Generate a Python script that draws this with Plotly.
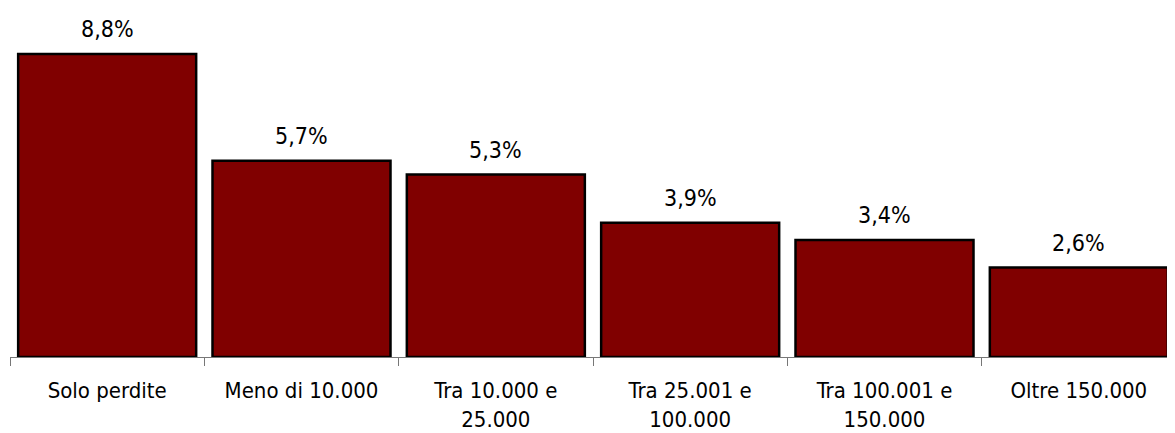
import plotly.graph_objects as go

# Categorie di reddito e quota percentuale
categories = ['Solo perdite', 'Meno di 10.000', 'Tra 10.000 e<br>25.000',
              'Tra 25.001 e<br>100.000', 'Tra 100.001 e<br>150.000', 'Oltre 150.000']
values = [8.8, 5.7, 5.3, 3.9, 3.4, 2.6]

labels = [f'{v:.1f}'.replace('.', ',') + '%' for v in values]

FONT = 'DejaVu Sans Condensed, DejaVu Sans'

fig = go.Figure()

fig.add_trace(go.Bar(x = categories,
                     y = values,
                     marker = dict(color = '#800000',
                                   line = dict(color = 'black', width = 2.5)),
                     hoverinfo = 'skip'))

for c, v, t in zip(categories, values, labels):
    fig.add_annotation(x = c, y = v, text = t,
                       showarrow = False,
                       yanchor = 'bottom',
                       yshift = 10,
                       font = dict(family = FONT, size = 23, color = 'black'))

fig.update_xaxes(showline = True,
                 linecolor = '#777777',
                 linewidth = 1,
                 ticks = 'outside',
                 tickson = 'boundaries',
                 ticklen = 8,
                 tickcolor = '#777777',
                 ticklabelstandoff = 14,
                 tickfont = dict(family = FONT, size = 22, color = 'black'),
                 showgrid = False)

fig.update_yaxes(visible = False, range = [0, 9.79])

fig.update_layout(plot_bgcolor = 'white',
                  paper_bgcolor = 'white',
                  width = 1175,
                  height = 433,
                  bargap = 0.084,
                  margin = dict(l = 2, r = 7, t = 12, b = 84, autoexpand = False),
                  showlegend = False)

fig.write_html("out.html")
